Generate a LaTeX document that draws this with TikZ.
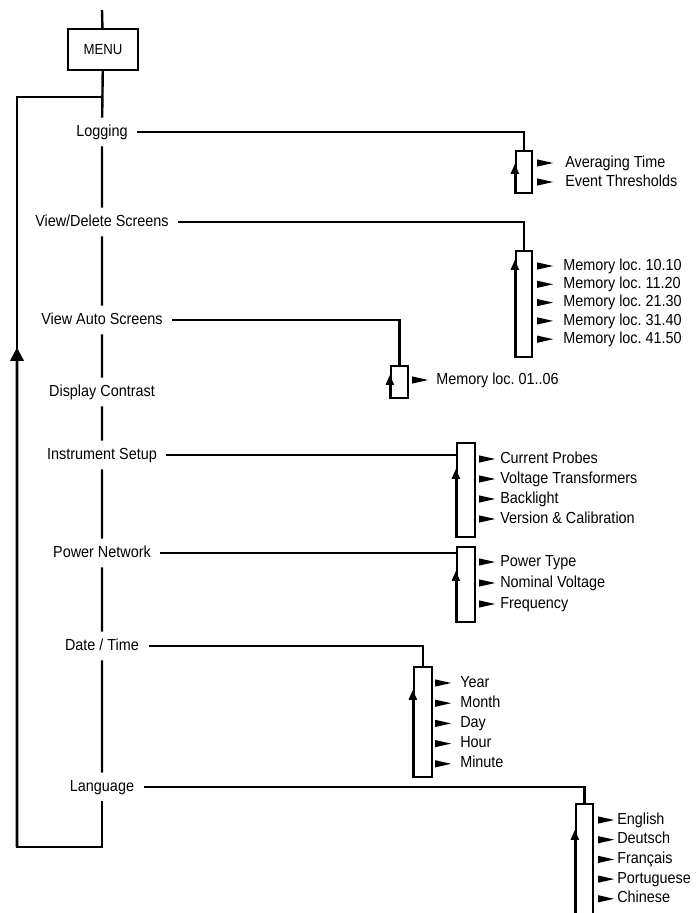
\documentclass[tikz,border=0pt]{standalone}
\usepackage{fontspec}
\setmainfont{Liberation Sans}[FakeStretch=0.9]
\usetikzlibrary{calc,positioning,fit,arrows.meta}
\frenchspacing

\begin{document}
\begin{tikzpicture}[x=0.75pt,y=-0.75pt,
  every node/.style={font=\fontsize{12}{14}\selectfont},
  entry/.style={text height=8.6pt, text depth=2.4pt, inner xsep=7pt, inner ysep=5pt},
  item/.style={anchor=west, inner sep=0pt, text height=8.6pt, text depth=2.4pt},
  subbox/.style={draw, line width=1.7pt, inner sep=0pt},
  main/.style={line width=2pt},
  spine/.style={line width=1.8pt},
  faint/.style={line width=1pt},
  uptip/.style={line width=1.7pt, -{Triangle[length=7.5pt,width=6pt]}},
  pointer/.pic={\fill (0,-3.6) -- (16,0) -- (0,3.6) -- cycle;}
]
\useasboundingbox (0,0) rectangle (698,913);
\clip (0,0) rectangle (698,913);

% main menu column
\coordinate (top) at (102,10);
\node[draw, line width=1pt, minimum width=52.5pt, minimum height=30.75pt,
  font=\fontsize{11}{13}\selectfont] (menu) at (103,49.5) {MENU};
\node[entry] (logging) at (102,132) {Logging};
\node[entry] (viewdel) at (102,222) {View/Delete Screens};
\node[entry] (viewauto) at (102,320) {View Auto Screens};
\node[entry] (contrast) at (102,392) {Display Contrast};
\node[entry] (setup) at (102,455) {Instrument Setup};
\node[entry] (network) at (102,553) {Power Network};
\node[entry] (datetime) at (102,646) {Date / Time};
\node[entry] (language) at (102,787) {Language};

\draw[spine] (top) -- (menu) -- (logging) -- (viewdel) -- (viewauto)
  -- (contrast) -- (setup) -- (network) -- (datetime) -- (language);

% return loop
\coordinate (join) at (102,97);
\coordinate (retT) at (17,97);
\coordinate (retB) at (17,847);
\draw[main] (language) -- (language |- retB) -- (retB) -- (retT) -- (join);
\draw[main, -{Triangle[length=10pt,width=10pt]}] (retB) -- ($(retB)!0.666!(retT)$);

% Logging
\node[subbox, fit={(516,151) (532,193)}] (logBox) {};
\draw[main] (logging) -| (logBox.north);
\draw[uptip] (logBox.south west) -- ($(logBox.north west)+(0,14)$);
\foreach \txt [count=\i] in {Averaging Time, Event Thresholds} {
  \node[item] (logI\i) at (565,{163+19*(\i-1)}) {\txt};
  \pic at ($(logBox.east |- logI\i.west)+(4,0)$) {pointer};
}

% View/Delete Screens
\node[subbox, fit={(516,251) (532,357)}] (vdBox) {};
\draw[main] (viewdel) -| (vdBox.north);
\draw[uptip] (vdBox.south west) -- ($(vdBox.north west)+(0,10)$);
\foreach \txt [count=\i] in {Memory loc. 10.10, Memory loc. 11.20,
  Memory loc. 21.30, Memory loc. 31.40, Memory loc. 41.50} {
  \node[item] (vdI\i) at (563,{266+18.3*(\i-1)}) {\txt};
  \pic at ($(vdBox.east |- vdI\i.west)+(4,0)$) {pointer};
}

% View Auto Screens
\node[subbox, fit={(391,366) (408,398)}] (vaBox) {};
\draw[main] (viewauto) -| (vaBox.north);
\draw[uptip] (vaBox.south west) -- ($(vaBox.north west)+(0,10)$);
\node[item] (vaI1) at (436,380) {Memory loc. 01..06};
\pic at ($(vaBox.east |- vaI1.west)+(3,0)$) {pointer};

% Instrument Setup
\node[subbox, fit={(457,443) (475,537)}] (isBox) {};
\draw[main] (setup) -- (setup -| isBox.west);
\draw[uptip] (isBox.south west) -- ($(isBox.north west)+(0,27)$);
\foreach \txt [count=\i] in {Current Probes, Voltage Transformers,
  Backlight, Version \& Calibration} {
  \node[item] (isI\i) at (500,{459+20*(\i-1)}) {\txt};
  \pic at ($(isBox.east |- isI\i.west)+(3,0)$) {pointer};
}

% Power Network
\node[subbox, fit={(457,547) (475,622)}] (pnBox) {};
\draw[main] (network) -- (network -| pnBox.west);
\draw[uptip] (pnBox.south west) -- ($(pnBox.north west)+(0,25)$);
\foreach \txt [count=\i] in {Power Type, Nominal Voltage, Frequency} {
  \node[item] (pnI\i) at (500,{562+21*(\i-1)}) {\txt};
  \pic at ($(pnBox.east |- pnI\i.west)+(3,0)$) {pointer};
}

% Date / Time
\node[subbox, fit={(414,667) (432,777)}] (dtBox) {};
\draw[faint] (datetime) -| (dtBox.north);
\draw[uptip] (dtBox.south west) -- ($(dtBox.north west)+(0,24)$);
\foreach \txt [count=\i] in {Year, Month, Day, Hour, Minute} {
  \node[item] (dtI\i) at (460,{683+20.2*(\i-1)}) {\txt};
  \pic at ($(dtBox.east |- dtI\i.west)+(2,0)$) {pointer};
}

% Language
\node[subbox, fit={(576,804) (593,930)}] (lgBox) {};
\draw[main] (language) -| (lgBox.north);
\draw[uptip] (lgBox.south west) -- ($(lgBox.north west)+(0,27)$);
\foreach \txt [count=\i] in {English, Deutsch, Français, Portuguese, Chinese} {
  \node[item] (lgI\i) at (617,{820+19.7*(\i-1)}) {\txt};
  \pic at ($(lgBox.east |- lgI\i.west)+(4,0)$) {pointer};
}
\end{tikzpicture}
\end{document}
